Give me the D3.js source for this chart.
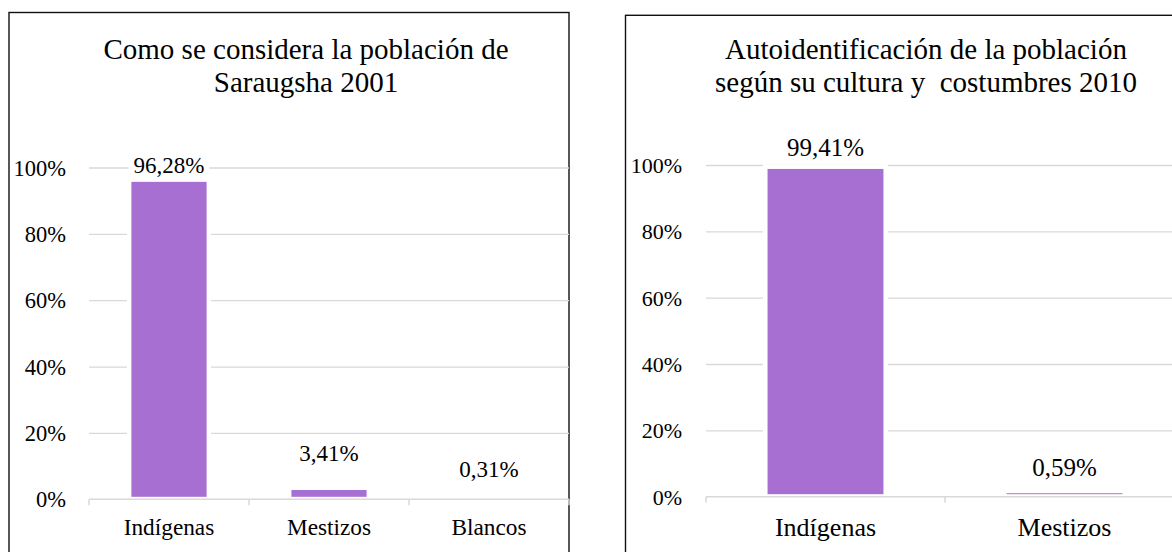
<!DOCTYPE html>
<html>
<head>
<meta charset="utf-8">
<script src="https://cdn.jsdelivr.net/npm/d3@7"></script>
<style>
  html, body { margin: 0; padding: 0; background: #fff; }
  svg { display: block; }
  text { white-space: pre; }
</style>
</head>
<body>
<svg id="chart" width="1172" height="552"></svg>
<script>
// ---- data ----
const leftTitle = ["Como se considera la población de", "Saraugsha 2001"];
const leftCategories = ["Indígenas", "Mestizos", "Blancos"];
const leftValues = [96.28, 3.41, 0.31];

const rightTitle = ["Autoidentificación de la población", "según su cultura y  costumbres 2010"];
const rightCategories = ["Indígenas", "Mestizos"];
const rightValues = [99.41, 0.59];

const yTickValues = [0, 20, 40, 60, 80, 100];

// ---- drawing ----
const svg = d3.select("#chart");
const FONT = "'Liberation Serif', 'Times New Roman', serif";
const BAR = "#a76fd2";
const GRID = "#d9d9d9";
const fmt = v => d3.format(".2f")(v).replace(".", ",") + "%";

function drawChart(cfg) {
  const g = svg.append("g");
  const x = d3.scaleBand().domain(cfg.categories).range([cfg.x0, cfg.x1]).paddingInner(0).paddingOuter(0);
  const y = d3.scaleLinear().domain([0, 100]).range([cfg.yBottom, cfg.yTop]);
  const plotW = cfg.x1 - cfg.x0;

  // box
  g.append("rect")
    .attr("x", cfg.box.x).attr("y", cfg.box.y)
    .attr("width", cfg.box.w).attr("height", cfg.box.h)
    .attr("fill", "none").attr("stroke", "#111").attr("stroke-width", 1.4);

  // title
  const t = g.append("text")
    .attr("text-anchor", "middle")
    .attr("font-family", FONT).attr("font-size", cfg.titleSize).attr("fill", "#000")
    .attr("xml:space", "preserve");
  cfg.title.forEach((line, i) => {
    t.append("tspan").attr("x", cfg.titleX).attr("y", cfg.titleY + i * cfg.titleLead).text(line);
  });

  // gridlines
  const grid = g.append("g").attr("transform", `translate(${cfg.x0},0)`)
    .call(d3.axisLeft(y).tickValues(yTickValues.filter(v => v > 0)).tickSize(-plotW).tickFormat(""));
  grid.select(".domain").remove();
  grid.selectAll(".tick line").attr("stroke", GRID).attr("stroke-width", 1.3);

  // y labels
  const yl = g.append("g").attr("transform", `translate(${cfg.x0 - cfg.yLabelGap},0)`)
    .call(d3.axisLeft(y).tickValues(yTickValues).tickSize(0).tickPadding(0).tickFormat(d => d + "%"));
  yl.select(".domain").remove();
  yl.selectAll(".tick text")
    .attr("font-family", FONT).attr("font-size", cfg.yTickSize).attr("fill", "#000")
    .attr("dy", "0.34em");

  // bars
  const bw = x.bandwidth() * cfg.barRatio;
  cfg.values.forEach((v, i) => {
    const cx = x(cfg.categories[i]) + x.bandwidth() / 2;
    const full = y(0) - y(v);
    const bottom = y(0) - 2.5;
    const top = y(v) + 2;
    let h = bottom - top;
    if (h <= 0) h = Math.max(full - 1, 0);
    if (h <= 0.2) return;
    g.append("rect")
      .attr("x", cx - bw / 2).attr("y", bottom - h)
      .attr("width", bw).attr("height", h)
      .attr("fill", BAR)
      .attr("stroke", "#fff").attr("stroke-width", 9)
      .style("paint-order", "stroke");
  });

  // x axis line + ticks at band boundaries
  g.append("line")
    .attr("x1", cfg.x0).attr("x2", cfg.x1)
    .attr("y1", y(0)).attr("y2", y(0))
    .attr("stroke", GRID).attr("stroke-width", 1.5);
  const bounds = cfg.categories.map(c => x(c)).concat([cfg.x1]);
  g.selectAll(null).data(bounds).enter().append("line")
    .attr("x1", d => d).attr("x2", d => d)
    .attr("y1", y(0)).attr("y2", y(0) + 6)
    .attr("stroke", GRID).attr("stroke-width", 1.5);

  // category labels
  g.selectAll(null).data(cfg.categories).enter().append("text")
    .attr("x", d => x(d) + x.bandwidth() / 2)
    .attr("y", y(0) + cfg.catDy)
    .attr("text-anchor", "middle")
    .attr("font-family", FONT).attr("font-size", cfg.catSize).attr("fill", "#000")
    .text(d => d);

  // data labels
  cfg.values.forEach((v, i) => {
    const cx = x(cfg.categories[i]) + x.bandwidth() / 2;
    const lbl = g.append("text")
      .attr("x", cx).attr("y", y(v) + cfg.labelDy[i])
      .attr("text-anchor", "middle")
      .attr("font-family", FONT).attr("font-size", cfg.dataSize).attr("fill", "#000")
      .text(fmt(v));
    const bb = lbl.node().getBBox();
    g.insert("rect", function () { return lbl.node(); })
      .attr("x", bb.x - 5).attr("y", bb.y + 2)
      .attr("width", bb.width + 10).attr("height", bb.height - 2)
      .attr("fill", "#fff");
  });
}

drawChart({
  categories: leftCategories, values: leftValues, title: leftTitle,
  box: { x: 9, y: 12.5, w: 560, h: 560 },
  x0: 89, x1: 569, yTop: 167.5, yBottom: 499.3,
  titleX: 306, titleY: 59, titleLead: 33, titleSize: 29,
  yTickSize: 22.5, yLabelGap: 23, catSize: 23.3, catDy: 36, dataSize: 23,
  barRatio: 0.47, labelDy: [-7, -26.5, -21.5]
});

drawChart({
  categories: rightCategories, values: rightValues, title: rightTitle,
  box: { x: 625.5, y: 15.3, w: 620, h: 560 },
  x0: 706, x1: 1184, yTop: 165, yBottom: 496.7,
  titleX: 926, titleY: 59, titleLead: 33, titleSize: 29,
  yTickSize: 22, yLabelGap: 24, catSize: 26, catDy: 39, dataSize: 25,
  barRatio: 0.485, labelDy: [-11, -19]
});
</script>
</body>
</html>
